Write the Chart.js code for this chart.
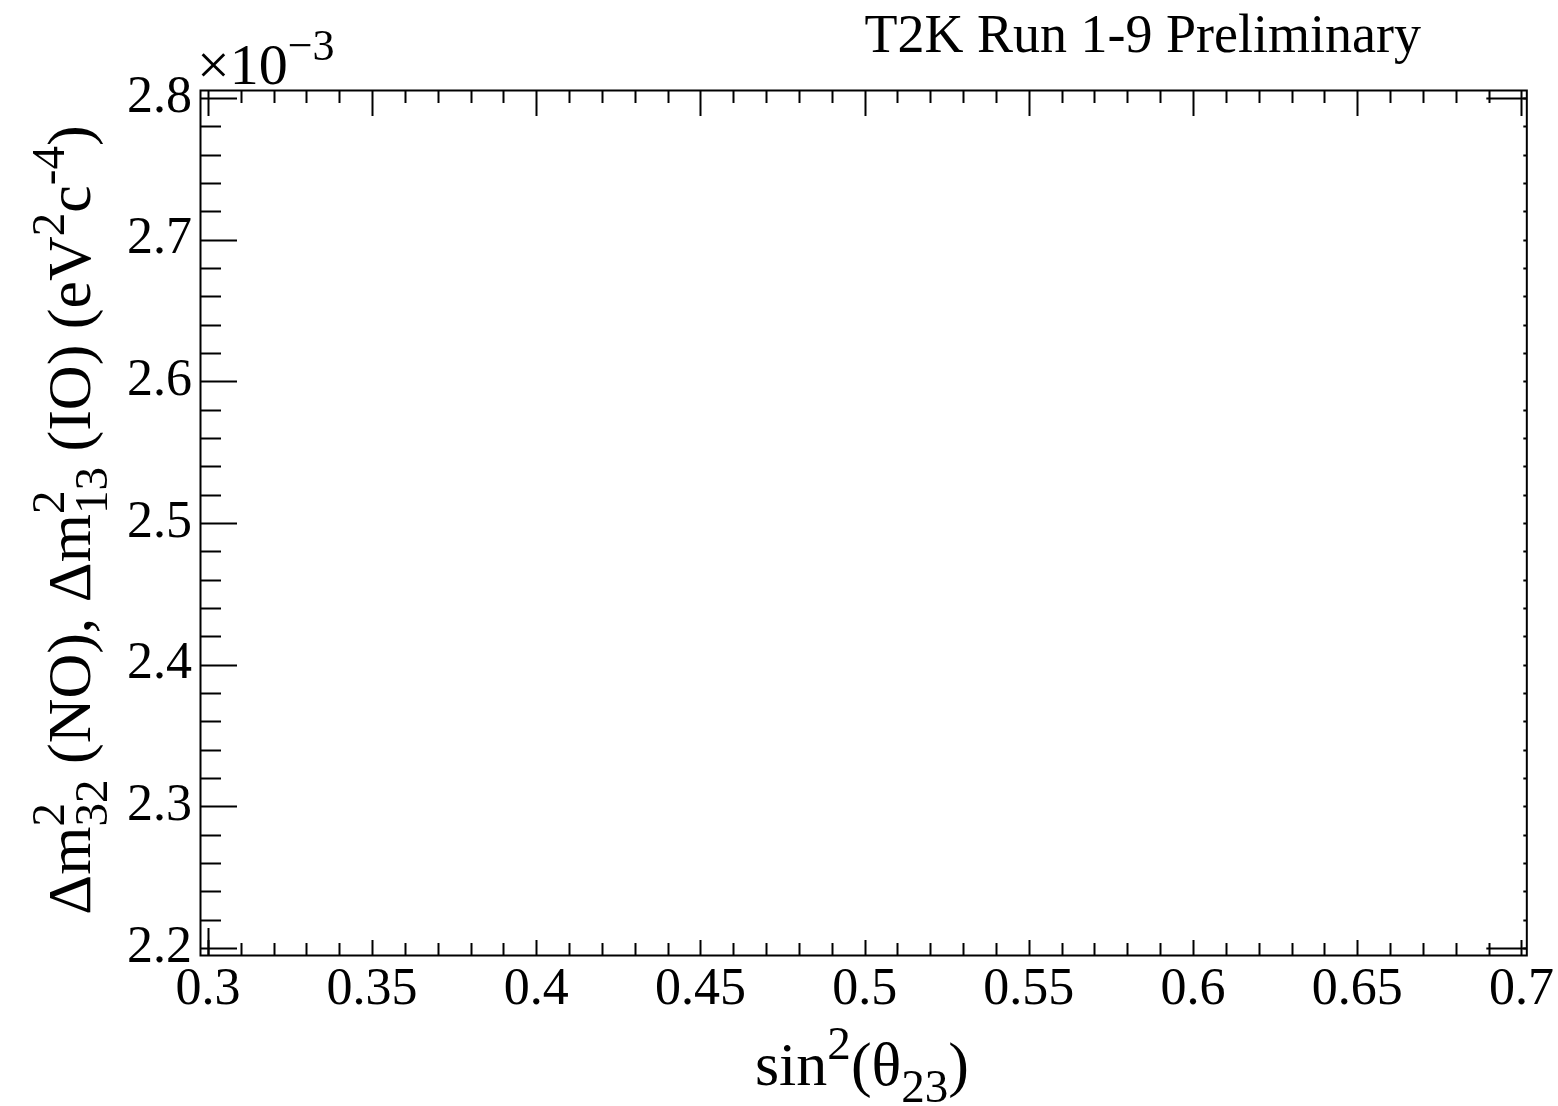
<!DOCTYPE html>
<html>
<head>
<meta charset="utf-8">
<script src="https://cdn.jsdelivr.net/npm/chart.js@4.4.1/dist/chart.umd.min.js"></script>
<style>
  html, body { margin: 0; padding: 0; background: #fff; }
  #graph { display: block; }
</style>
</head>
<body>
<canvas id="graph" width="1558" height="1106"></canvas>
<script>
const FONT = '"Liberation Serif", "Times New Roman", serif';

// axis ranges (the frame is a touch wider than 0.3-0.7 / 2.2-2.8)
const X_RANGE = [0.2976, 0.7015];
const Y_RANGE = [2.195, 2.8056];

const X_TICKS = [0.3, 0.35, 0.4, 0.45, 0.5, 0.55, 0.6, 0.65, 0.7];
const X_LABELS = ["0.3", "0.35", "0.4", "0.45", "0.5", "0.55", "0.6", "0.65", "0.7"];
const Y_TICKS = [2.2, 2.3, 2.4, 2.5, 2.6, 2.7, 2.8];
const Y_LABELS = ["2.2", "2.3", "2.4", "2.5", "2.6", "2.7", "2.8"];
const X_MINOR_STEP = 0.01;
const Y_MINOR_STEP = 0.02;

// no contours in this picture, just the empty frame
const POINTS = [];

const TITLE = "T2K Run 1-9 Preliminary";
const X_TITLE = [{ t: "sin" }, { sup: "2" }, { t: "(\u03b8" }, { sub: "23" }, { t: ")" }];
const Y_TITLE = [
    { t: "\u0394m" }, { sup: "2", sub: "32" }, { t: " (NO), \u0394m" }, { sup: "2", sub: "13" },
    { t: " (IO) (eV" }, { sup: "2" }, { t: "c" }, { sup: "-4" }, { t: ")" },
];
const EXPONENT = [{ t: "\u00d710" }, { sup: "\u22123" }];

const SUP_SCALE = 0.76;

const partWidth = (ctx, p, size) => {
    if (p.t !== undefined) {
        ctx.font = `${size}px ${FONT}`;
        return ctx.measureText(p.t).width;
    }
    ctx.font = `${size * SUP_SCALE}px ${FONT}`;
    const a = p.sup ? ctx.measureText(p.sup).width : 0;
    const b = p.sub ? ctx.measureText(p.sub).width : 0;
    return Math.max(a, b);
};

const drawRich = (ctx, parts, x, y, size, align) => {
    const total = parts.reduce((s, p) => s + partWidth(ctx, p, size), 0);
    let cx = align === "center" ? x - total / 2 : align === "right" ? x - total : x;
    ctx.textAlign = "left";
    ctx.textBaseline = "alphabetic";
    parts.forEach((p) => {
        const w = partWidth(ctx, p, size);
        if (p.t !== undefined) {
            ctx.font = `${size}px ${FONT}`;
            ctx.fillText(p.t, cx, y);
        } else {
            ctx.font = `${size * SUP_SCALE}px ${FONT}`;
            if (p.sup) ctx.fillText(p.sup, cx, y - size * 0.42);
            if (p.sub) ctx.fillText(p.sub, cx, y + size * 0.28);
        }
        cx += w;
    });
};

// ROOT style frame: inward ticks on all four sides
const framePlugin = {
    id: "frame",
    afterDraw(chart) {
        const { ctx, chartArea: a, scales } = chart;
        const x = scales.x;
        const y = scales.y;
        ctx.save();
        ctx.strokeStyle = "#000";
        ctx.fillStyle = "#000";
        ctx.lineWidth = 2;

        const vTick = (v, y0, len) => {
            const px = Math.round(x.getPixelForValue(v)) + 0.5;
            ctx.beginPath();
            ctx.moveTo(px, y0);
            ctx.lineTo(px, y0 + len);
            ctx.stroke();
        };
        const hTick = (v, x0, len) => {
            const py = Math.round(y.getPixelForValue(v)) + 0.5;
            ctx.beginPath();
            ctx.moveTo(x0, py);
            ctx.lineTo(x0 + len, py);
            ctx.stroke();
        };

        const nx = Math.round((X_TICKS[X_TICKS.length - 1] - X_TICKS[0]) / X_MINOR_STEP);
        for (let i = 0; i <= nx; i++) {
            const v = X_TICKS[0] + i * X_MINOR_STEP;
            const major = i % 5 === 0;
            vTick(v, a.bottom, major ? -15 : -12);
            vTick(v, a.top, major ? 26 : 13);
        }
        const ny = Math.round((Y_TICKS[Y_TICKS.length - 1] - Y_TICKS[0]) / Y_MINOR_STEP);
        for (let i = 0; i <= ny; i++) {
            const v = Y_TICKS[0] + i * Y_MINOR_STEP;
            const major = i % 5 === 0;
            hTick(v, a.left, major ? 37 : 21);
            hTick(v, a.right, -3);
        }
        // corner marks of the overlaid frame
        vTick(X_TICKS[0], a.bottom, -27);
        hTick(Y_TICKS[0], a.right, -40);
        hTick(Y_TICKS[Y_TICKS.length - 1], a.right, -40);

        ctx.strokeRect(a.left + 0.5, a.top + 0.5, a.right - a.left, a.bottom - a.top);

        // texts
        drawRich(ctx, [{ t: TITLE }], 1421, 52, 54, "right");
        drawRich(ctx, EXPONENT, 197, 84, 58, "left");
        drawRich(ctx, X_TITLE, 862, 1085, 62, "center");
        ctx.save();
        ctx.translate(90, 520);
        ctx.rotate(-Math.PI / 2);
        drawRich(ctx, Y_TITLE, 0, 0, 62, "center");
        ctx.restore();
        ctx.restore();
    },
};

const ctx = document.getElementById("graph");

new Chart(ctx, {
    type: "scatter",
    data: {
        datasets: [
            {
                data: POINTS,
                borderColor: "#000",
                backgroundColor: "#000",
            },
        ],
    },
    options: {
        responsive: false,
        animation: false,
        devicePixelRatio: 1,
        layout: {
            padding: { top: 90, right: 30, left: 0, bottom: 0 },
        },
        plugins: {
            legend: { display: false },
            tooltip: { enabled: false },
        },
        scales: {
            x: {
                type: "linear",
                min: X_RANGE[0],
                max: X_RANGE[1],
                afterBuildTicks: (scale) => {
                    scale.ticks = X_TICKS.map((v) => ({ value: v }));
                },
                afterFit: (scale) => {
                    scale.height = 151;
                },
                grid: { display: false, drawTicks: false },
                border: { display: false },
                ticks: {
                    autoSkip: false,
                    maxRotation: 0,
                    padding: 4,
                    color: "#000",
                    font: { family: FONT, size: 52 },
                    callback: (v, i) => X_LABELS[i],
                },
            },
            y: {
                type: "linear",
                min: Y_RANGE[0],
                max: Y_RANGE[1],
                afterBuildTicks: (scale) => {
                    scale.ticks = Y_TICKS.map((v) => ({ value: v }));
                },
                afterFit: (scale) => {
                    scale.width = 200;
                },
                grid: { display: false, drawTicks: false },
                border: { display: false },
                ticks: {
                    autoSkip: false,
                    padding: 8,
                    color: "#000",
                    font: { family: FONT, size: 52 },
                    callback: (v, i) => Y_LABELS[i],
                },
            },
        },
    },
    plugins: [framePlugin],
});
</script>
</body>
</html>
